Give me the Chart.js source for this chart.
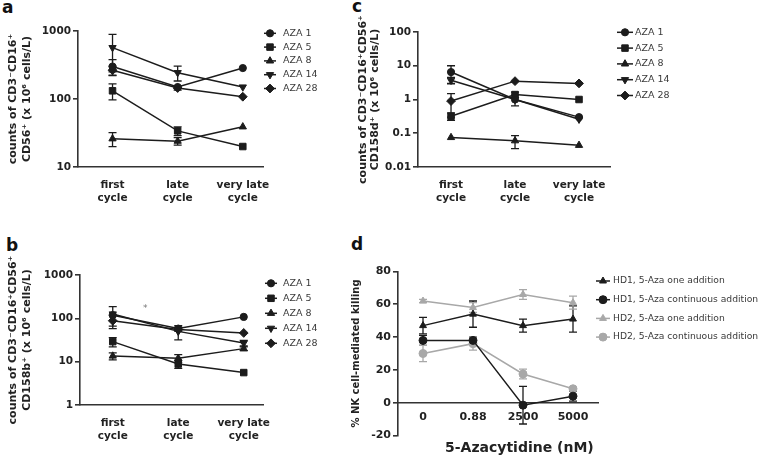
<!DOCTYPE html>
<html>
<head>
<meta charset="utf-8">
<script src="https://cdn.jsdelivr.net/npm/chart.js@4.4.1/dist/chart.umd.min.js"></script>
<style>
html, body { margin: 0; padding: 0; width: 762px; height: 455px; overflow: hidden; background: #fff; }
canvas { position: absolute; }
.tag { position: absolute; font: bold 17px "DejaVu Sans", sans-serif; line-height: 17px; color: #111; }
.note { position: absolute; font-family: "DejaVu Sans", sans-serif; color: #222; white-space: nowrap; }
</style>
</head>
<body>
<div class="tag" style="left:2px;top:-1.5px">a</div>
<div class="tag" style="left:6px;top:236.5px">b</div>
<div class="tag" style="left:352px;top:-2.5px">c</div>
<div class="tag" style="left:351px;top:235.5px">d</div>

<canvas id="chartA" width="380" height="225" style="left:0;top:0"></canvas>
<canvas id="chartB" width="380" height="230" style="left:0;top:225px"></canvas>
<canvas id="chartC" width="422" height="225" style="left:340px;top:0"></canvas>
<canvas id="chartD" width="422" height="240" style="left:340px;top:250px"></canvas>

<div class="note" style="left:143px;top:303px;font-size:9px;color:#777">*</div>
<div class="note" style="left:445px;top:439px;font-size:14px;font-weight:bold">5-Azacytidine (nM)</div>

<script>
// categories
const cycles = ['first cycle', 'late cycle', 'very late cycle'];
const azaNames = ['AZA 1', 'AZA 5', 'AZA 8', 'AZA 14', 'AZA 28'];

// a: CD3-CD16+CD56+ (rows = AZA 1, 5, 8, 14, 28)
const countsA = [
    [300, 150, 285],
    [132, 34, 20],
    [26, 24, 39],
    [570, 244, 150],
    [265, 145, 108]
];
const errA = [
    [80, 0, 0],
    [35, 5, 0],
    [6, 3, 0],
    [320, 60, 0],
    [40, 10, 0]
];
const ticksA = [10, 100, 1000];

// b: CD158b+
const countsB = [
    [118, 58, 108],
    [29, 8.8, 5.6],
    [13.5, 12, 20],
    [126, 50, 27],
    [88, 55, 46]
];
const errB = [
    [0, 5, 0],
    [7, 1.8, 0],
    [2.5, 2.5, 2],
    [60, 18, 4],
    [30, 5, 0]
];
const ticksB = [1, 10, 100, 1000];

// c: CD158d+
const countsC = [
    [6.5, 1.0, 0.3],
    [0.32, 1.4, 1.0],
    [0.075, 0.06, 0.044],
    [3.7, 1.0, 0.26],
    [0.9, 3.5, 3.0]
];
const errC = [
    [3.5, 0, 0],
    [0.08, 0.25, 0],
    [0, 0.025, 0],
    [0.8, 0.35, 0],
    [0.6, 0, 0]
];
const ticksC = [0.01, 0.1, 1, 10, 100];

// d: NK killing vs 5-Aza dose
const doses = ['0', '0.88', '2500', '5000'];
const killNames = [
    'HD1, 5-Aza one addition',
    'HD1, 5-Aza continuous addition',
    'HD2, 5-Aza one addition',
    'HD2, 5-Aza continuous addition'
];
const killing = [
    [47, 54, 47, 51],
    [38, 38, -1.5, 4],
    [62, 58, 66, 61],
    [30, 36, 17.5, 8.5]
];
const errD = [
    [5, 8, 4, 8],
    [3, 2, 11.5, 3],
    [1, 3, 3, 4],
    [5, 4, 3, 1]
];
const ticksD = [-20, 0, 20, 40, 60, 80];

// marker styles
const ink = '#1c1c1c';
const grey = '#a8a8a8';
const azaStyles = [
    { pointStyle: 'circle', rotation: 0, radius: 3.6 },
    { pointStyle: 'rect', rotation: 0, radius: 4.6 },
    { pointStyle: 'triangle', rotation: 0, radius: 4.2 },
    { pointStyle: 'triangle', rotation: 180, radius: 4.2 },
    { pointStyle: 'rectRot', rotation: 0, radius: 4.4 }
];
const killStyles = [
    { pointStyle: 'triangle', color: ink },
    { pointStyle: 'circle', color: ink },
    { pointStyle: 'triangle', color: grey },
    { pointStyle: 'circle', color: grey }
];

Chart.defaults.font.family = '"DejaVu Sans", "Liberation Sans", Arial, sans-serif';
Chart.defaults.color = '#222';

const axisColor = '#333';
const tickFont = { size: 10.5, weight: 'bold', lineHeight: 1.3 };

// error bars drawn under the markers, through the y scale
const errorBars = {
    id: 'errorBars',
    beforeDatasetsDraw(chart) {
        const ctx = chart.ctx;
        const yScale = chart.scales.y;
        chart.data.datasets.forEach((ds, i) => {
            const meta = chart.getDatasetMeta(i);
            ctx.save();
            ctx.strokeStyle = ds.borderColor;
            ctx.lineWidth = 1.3;
            meta.data.forEach((pt, j) => {
                const e = ds.errors[j];
                if (!e) return;
                const raw = ds.data[j];
                const v = typeof raw === 'object' ? raw.y : raw;
                const top = yScale.getPixelForValue(v + e);
                const bottom = yScale.getPixelForValue(Math.max(v - e, yScale.min));
                ctx.beginPath();
                ctx.moveTo(pt.x, top); ctx.lineTo(pt.x, bottom);
                ctx.moveTo(pt.x - 4, top); ctx.lineTo(pt.x + 4, top);
                ctx.moveTo(pt.x - 4, bottom); ctx.lineTo(pt.x + 4, bottom);
                ctx.stroke();
            });
            ctx.restore();
        });
    }
};

// legend beside the plot: line + marker + label
const sideLegend = {
    id: 'sideLegend',
    afterDraw(chart, args, opts) {
        const ctx = chart.ctx;
        chart.data.datasets.forEach((ds, i) => {
            const y = opts.y + i * opts.gap;
            ctx.save();
            ctx.strokeStyle = ds.borderColor;
            ctx.fillStyle = ds.borderColor;
            ctx.lineWidth = 1.5;
            ctx.beginPath();
            ctx.moveTo(opts.x - opts.half, y);
            ctx.lineTo(opts.x + opts.half, y);
            ctx.stroke();
            ctx.lineWidth = 1;
            Chart.helpers.drawPoint(ctx, {
                pointStyle: ds.pointStyle,
                rotation: ds.pointRotation || 0,
                radius: ds.pointRadius,
                borderWidth: 1
            }, opts.x, y);
            ctx.fillStyle = '#3a3a3a';
            ctx.font = opts.fontSize + 'px "DejaVu Sans", sans-serif';
            ctx.textBaseline = 'middle';
            ctx.fillText(ds.label, opts.tx, y);
            ctx.restore();
        });
    }
};

function splitLabel(s) {
    const k = s.lastIndexOf(' ');
    return [s.slice(0, k), s.slice(k + 1)];
}

function cycleChart(id, values, errors, yTicks, yTitle, lay) {
    return new Chart(document.getElementById(id), {
        type: 'line',
        data: {
            datasets: values.map((row, i) => ({
                label: azaNames[i],
                data: row.map((v, j) => ({ x: j, y: v })),
                errors: errors[i],
                borderColor: ink,
                backgroundColor: ink,
                pointBackgroundColor: ink,
                pointBorderColor: ink,
                borderWidth: 1.5,
                pointStyle: azaStyles[i].pointStyle,
                pointRotation: azaStyles[i].rotation,
                pointRadius: azaStyles[i].radius,
                pointBorderWidth: 1,
                tension: 0
            }))
        },
        options: {
            responsive: false,
            animation: false,
            devicePixelRatio: 1,
            layout: { padding: lay.padding },
            plugins: {
                legend: { display: false },
                tooltip: { enabled: false },
                sideLegend: lay.legend
            },
            scales: {
                x: {
                    type: 'linear',
                    min: lay.xRange[0],
                    max: lay.xRange[1],
                    afterBuildTicks: s => { s.ticks = cycles.map((c, i) => ({ value: i })); },
                    afterFit: s => { s.height = 45; },
                    ticks: {
                        callback: v => splitLabel(cycles[v]),
                        font: tickFont, color: '#222', padding: 3,
                        maxRotation: 0, autoSkip: false
                    },
                    grid: { display: false },
                    border: { color: axisColor, width: 1.6 }
                },
                y: {
                    type: 'logarithmic',
                    min: yTicks[0],
                    max: yTicks[yTicks.length - 1],
                    afterBuildTicks: s => { s.ticks = yTicks.map(v => ({ value: v })); },
                    afterFit: s => { s.width = lay.yWidth; },
                    ticks: { callback: v => String(v), font: tickFont, color: '#222', padding: 2, autoSkip: false },
                    grid: { drawOnChartArea: false, drawTicks: true, tickLength: 5, color: axisColor, lineWidth: 1.6 },
                    border: { color: axisColor, width: 1.6 },
                    title: {
                        display: true,
                        text: yTitle,
                        color: '#222',
                        font: { size: 11, weight: 'bold', lineHeight: lay.titleLine },
                        padding: { top: lay.titlePad, bottom: 0 }
                    }
                }
            }
        },
        plugins: [errorBars, sideLegend]
    });
}

cycleChart('chartA', countsA, errA, ticksA,
    ['counts of CD3\u207BCD16\u207A', 'CD56\u207A (x 10\u2076 cells/L)'], {
    padding: { left: 0, top: 31, right: 117, bottom: 13 },
    yWidth: 78, xRange: [-0.53, 2.31], titleLine: '14px', titlePad: 6.5,
    legend: { x: 270, tx: 283, y: 33.3, gap: 13.8, half: 6, fontSize: 9.5 }
});

cycleChart('chartB', countsB, errB, ticksB,
    ['counts of CD3\u207BCD16\u207ACD56\u207A', 'CD158b\u207A (x 10\u2076 cells/L)'], {
    padding: { left: 0, top: 50, right: 117, bottom: 5 },
    yWidth: 80, xRange: [-0.5, 2.294], titleLine: '14px', titlePad: 6,
    legend: { x: 271, tx: 283, y: 58.3, gap: 15, half: 6, fontSize: 9.5 }
});

cycleChart('chartC', countsC, errC, ticksC,
    ['counts of CD3\u207BCD16\u207ACD56\u207A', 'CD158d\u207A (x 10\u2076 cells/L)'], {
    padding: { left: 0, top: 32, right: 152, bottom: 13 },
    yWidth: 78, xRange: [-0.516, 2.484], titleLine: '12.5px', titlePad: 16.75,
    legend: { x: 285, tx: 295, y: 32.3, gap: 15.8, half: 8, fontSize: 9.5 }
});

new Chart(document.getElementById('chartD'), {
    type: 'line',
    data: {
        labels: doses,
        datasets: killing.map((row, i) => ({
            label: killNames[i],
            data: row,
            errors: errD[i],
            borderColor: killStyles[i].color,
            backgroundColor: killStyles[i].color,
            pointBackgroundColor: killStyles[i].color,
            pointBorderColor: killStyles[i].color,
            borderWidth: 1.5,
            pointStyle: killStyles[i].pointStyle,
            pointRadius: 4,
            pointBorderWidth: 1,
            tension: 0
        }))
    },
    options: {
        responsive: false,
        animation: false,
        devicePixelRatio: 1,
        layout: { padding: { left: 0, top: 21.5, right: 164, bottom: 54.5 } },
        plugins: {
            legend: { display: false },
            tooltip: { enabled: false },
            sideLegend: { x: 263, tx: 273, y: 31, gap: 18.7, half: 7, fontSize: 9.2 }
        },
        scales: {
            x: {
                type: 'category',
                offset: true,
                position: { y: 0 },
                afterFit: s => { s.height = 52; },
                ticks: { font: { size: 11, weight: 'bold' }, color: '#222', padding: 0, maxRotation: 0, autoSkip: false },
                grid: { display: false },
                border: { color: axisColor, width: 1.6 }
            },
            y: {
                min: ticksD[0],
                max: ticksD[ticksD.length - 1],
                afterBuildTicks: s => { s.ticks = ticksD.map(v => ({ value: v })); },
                afterFit: s => { s.width = 58; },
                ticks: { font: { size: 11, weight: 'bold' }, color: '#222', padding: 2 },
                grid: { drawOnChartArea: false, drawTicks: true, tickLength: 5, color: axisColor, lineWidth: 1.6 },
                border: { color: axisColor, width: 1.6 },
                title: {
                    display: true,
                    text: '% NK cell-mediated killing',
                    color: '#222',
                    font: { size: 10, weight: 'bold', lineHeight: 1.2 },
                    padding: { top: 10.7, bottom: 0 }
                }
            }
        }
    },
    plugins: [errorBars, sideLegend]
});
</script>
</body>
</html>
